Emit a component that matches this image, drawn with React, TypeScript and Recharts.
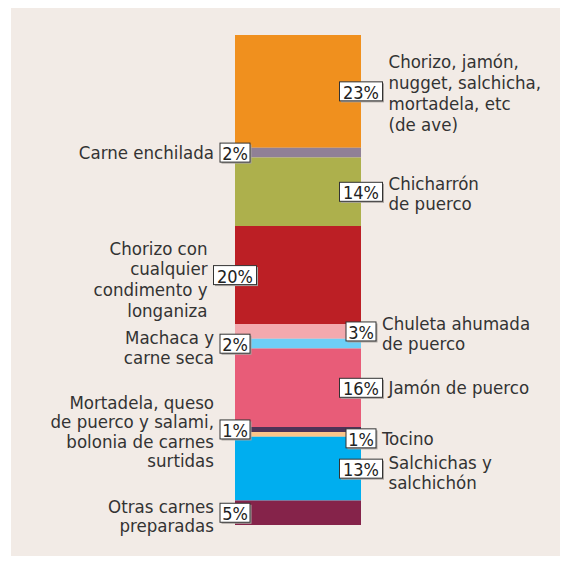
import React from 'react';
import { BarChart, Bar, XAxis, YAxis, LabelList } from 'recharts';

// segments, top to bottom
const names = [
  'Chorizo, jamón,\nnugget, salchicha,\nmortadela, etc\n(de ave)',
  'Carne enchilada',
  'Chicharrón\nde puerco',
  'Chorizo con\ncualquier\ncondimento y\nlonganiza',
  'Chuleta ahumada\nde puerco',
  'Machaca y\ncarne seca',
  'Jamón de puerco',
  'Mortadela, queso\nde puerco y salami,\nbolonia de carnes\nsurtidas',
  'Tocino',
  'Salchichas y\nsalchichón',
  'Otras carnes\npreparadas',
];
const values = [23, 2, 14, 20, 3, 2, 16, 1, 1, 13, 5];
const sides = ['right', 'left', 'right', 'left', 'right', 'left', 'right', 'left', 'right', 'right', 'left'];

const COLORS = [
  '#F0901E', '#908096', '#ADB04C', '#BC1F25', '#F3A9AE', '#6DCFF6',
  '#E85C78', '#4E3357', '#FBC58A', '#00AEEF', '#85234A',
];
// small nudges so labels don't collide
const BOX_SHIFT = [0, 0, 0, 0, 0, 0, 0, 0, 4, 0, 0];
const TEXT_SHIFT = [2, 0, 2, 4, 2, 4, 0, 2, 0, 4, 3];
const LINE_H = [21, 20, 20, 20.7, 19.5, 19.5, 20, 19.5, 20, 19.5, 19.5];

const FONT = '"DejaVu Sans Condensed", "Liberation Sans Narrow", sans-serif';
const INK = '#333';

const row: Record<string, number | string> = { name: 'total' };
values.forEach((v, i) => { row[`s${i}`] = v; });
const chartData = [row];

const makeLabel = (i: number) => (props: any) => {
  const x = Number(props.x), y = Number(props.y);
  const width = Number(props.width), height = Number(props.height);
  const side = sides[i];
  const cy = y + height / 2 + BOX_SHIFT[i];
  const edge = side === 'right' ? x + width : x;
  const pct = `${values[i]}%`;
  const bw = pct.length === 3 ? 43 : 30;
  const bh = 19;
  const bx = edge - bw / 2;
  const lines = names[i].split('\n');
  const lh = LINE_H[i];
  const tx = side === 'right' ? bx + bw + 6 : bx - 6;
  const startY = cy + TEXT_SHIFT[i] - ((lines.length - 1) * lh) / 2;
  return (
    <g>
      <rect x={bx + 1.5} y={cy - bh / 2 + 1.5} width={bw} height={bh} fill="#a9a4a0" />
      <rect x={bx} y={cy - bh / 2} width={bw} height={bh} fill="#fff" stroke="#333" strokeWidth={1} />
      <text x={bx + bw / 2} y={cy + 1} textAnchor="middle" dominantBaseline="central"
        fontFamily={FONT} fontSize={18} fill="#222">{pct}</text>
      <text textAnchor={side === 'right' ? 'start' : 'end'} fontFamily={FONT} fontSize={18.5} fill={INK}>
        {lines.map((l, j) => (
          <tspan key={j} x={tx} y={startY + j * lh} dominantBaseline="central">{l}</tspan>
        ))}
      </text>
    </g>
  );
};

export default function App() {
  return (
    <div style={{ position: 'absolute', left: 0, top: 0, width: 566, height: 562, background: '#fff' }}>
      <div style={{ position: 'absolute', left: 11, top: 8, width: 549, height: 548, background: '#F2EBE6' }} />
      <div style={{ position: 'absolute', left: 0, top: 0 }}>
        <BarChart width={566} height={562} data={chartData}
          margin={{ top: 35, bottom: 37, left: 235, right: 205 }}
          barCategoryGap={0}>
          <XAxis dataKey="name" hide />
          <YAxis hide domain={[0, 100]} reversed />
          {values.map((_, i) => (
            <Bar key={i} dataKey={`s${i}`} stackId="a" fill={COLORS[i]} isAnimationActive={false}>
              <LabelList dataKey={`s${i}`} content={makeLabel(i)} />
            </Bar>
          ))}
        </BarChart>
      </div>
    </div>
  );
}
